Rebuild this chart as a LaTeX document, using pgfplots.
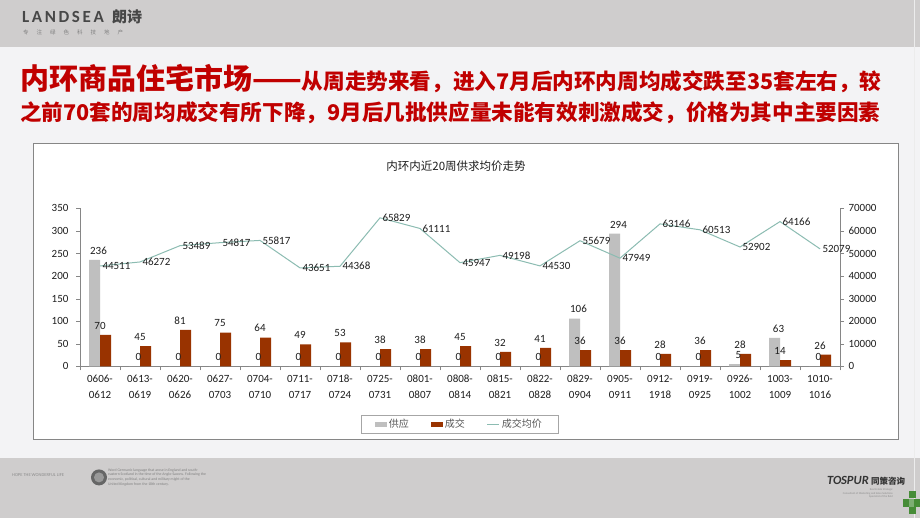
\documentclass[border=0pt]{standalone}
\usepackage{pgfplots}
\pgfplotsset{compat=1.18}
\usepackage{pgfplotstable}
\usepackage{fontspec}
\setmainfont{Carlito}
\newfontfamily\cjk{Noto Sans CJK SC}
\definecolor{supc}{RGB}{191,191,191}
\definecolor{dealc}{RGB}{153,51,0}
\definecolor{pricec}{RGB}{140,188,178}
\definecolor{titred}{RGB}{192,0,0}
\definecolor{axgray}{RGB}{134,134,134}
\definecolor{hdr}{RGB}{207,205,205}
\definecolor{bgc}{RGB}{243,243,245}
\definecolor{lbl}{RGB}{30,30,30}
\definecolor{grn}{RGB}{70,140,55}
\pgfplotsset{/pgf/number format/set thousands separator={}}

\pgfplotstableread{
x sup deal price
0 236 70 44511
1 0 45 46272
2 0 81 53489
3 0 75 54817
4 0 64 55817
5 0 49 43651
6 0 53 44368
7 0 38 65829
8 0 38 61111
9 0 45 45947
10 0 32 49198
11 0 41 44530
12 106 36 55679
13 294 36 47949
14 0 28 63146
15 0 36 60513
16 5 28 52902
17 63 14 64166
18 0 26 52079
}\data

\begin{document}
\begin{tikzpicture}
\begin{scope}[x=1pt,y=-1pt]
% slide background
\fill[bgc] (0,0) rectangle (920,518);
\fill[hdr] (0,0) rectangle (920,47);
\fill[hdr] (0,458) rectangle (920,518);
\draw[white!85!gray, line width=0.8pt] (914,0) -- (914,518);
% header logo
\node[anchor=base west, inner sep=0, text=black!72] at (22,22) {\fontsize{17}{17}\selectfont\bfseries L\kern2.6pt A\kern2.6pt N\kern2.6pt D\kern2.6pt S\kern2.6pt E\kern2.6pt A};
\node[anchor=base west, inner sep=0, text=black!72] at (112,22) {\cjk\bfseries\fontsize{15}{15}\selectfont 朗诗};
\node[anchor=base west, inner sep=0, text=black!50] at (23,34) {\cjk\fontsize{5.5}{6}\selectfont 专\hspace{8pt}注\hspace{8pt}绿\hspace{8pt}色\hspace{8pt}科\hspace{8pt}技\hspace{8pt}地\hspace{8pt}产};
% title
\node[anchor=base west, inner sep=0, text=titred] at (20,89) {\cjk\bfseries\fontsize{29}{29}\selectfont 内环商品住宅市场——\fontsize{21.6}{22}\selectfont 从周走势来看，进入7月后内环内周均成交跌至35套左右，较};
\node[anchor=base west, inner sep=0, text=titred] at (20,120) {\cjk\bfseries\fontsize{21.6}{22}\selectfont 之前70套的周均成交有所下降，9月后几批供应量未能有效刺激成交，价格为其中主要因素};
% chart panel
\fill[white] (33,143) rectangle (898,439);
\draw[axgray, line width=0.7pt] (33,143) rectangle (898,439);
\node[text=lbl] at (456,166) {\cjk\fontsize{11.5}{14}\selectfont 内环内近20周供求均价走势};
% footer
\node[anchor=west, inner sep=0, text=black!45] at (12,475) {\fontsize{4.5}{5}\selectfont HOPE THE WONDERFUL LIFE};
\fill[black!60] (99,477) circle (8);
\fill[black!40] (99,477) circle (5);
\node[anchor=north west, inner sep=0, text=black!50, align=left, font=\fontsize{3.8}{4.6}\selectfont] at (108,468) {Word Germanic language that arose in England and south-\\eastern Scotland in the time of the Anglo-Saxons. Following the\\economic, political, cultural and military might of the\\United Kingdom from the 18th century.};
\node[anchor=base east, inner sep=0, text=black!80] at (869,484) {\fontsize{12.5}{12}\selectfont\bfseries\itshape T\kern-0.3pt O\kern-0.3pt SPUR};
\node[anchor=base west, inner sep=0, text=black!80] at (871,484) {\cjk\bfseries\fontsize{8.5}{9}\selectfont 同策咨询};
\node[anchor=north east, inner sep=0, text=black!45, align=right, font=\fontsize{2.8}{3.6}\selectfont] at (893,488) {Real Estate Strategic\\Consultant of Marketing and Sales Solutions\\Specialist of the field};
\fill[grn] (909,491) rectangle (916,498);
\fill[grn] (903,499) rectangle (909,507);
\fill[grn] (914,499) rectangle (920,507);
\fill[grn] (909,507) rectangle (916,514);
\fill[grn!70!white] (909,499) rectangle (914,507);
\end{scope}

% ---------- left axis: bars ----------
\begin{axis}[
  at={(80pt,-366pt)}, anchor=south west,
  scale only axis, width=760pt, height=158pt,
  xmin=-0.5, xmax=18.5, ymin=0, ymax=350,
  ytick={0,50,...,350},
  xtick={0,...,18},
  xticklabels={{0606-\\0612},{0613-\\0619},{0620-\\0626},{0627-\\0703},{0704-\\0710},{0711-\\0717},{0718-\\0724},{0725-\\0731},{0801-\\0807},{0808-\\0814},{0815-\\0821},{0822-\\0828},{0829-\\0904},{0905-\\0911},{0912-\\1918},{0919-\\0925},{0926-\\1002},{1003-\\1009},{1010-\\1016}},
  x tick label style={align=center, font=\fontsize{11}{16}\selectfont, text=lbl, yshift=-1pt},
  y tick label style={font=\fontsize{11}{13}\selectfont, text=lbl, xshift=-4pt},
  /pgf/number format/assume math mode=true,
  major x tick style={draw=none},
  minor xtick={-0.5,0.5,...,18.5},
  minor x tick style={axgray},
  minor tick length=4pt,
  major tick length=4pt,
  ytick style={axgray},
  tick align=outside,
  axis x line*=bottom, axis y line*=left,
  axis line style={axgray},
  clip=false,
  legend columns=3,
  legend style={at={(0.4993,-0.367)}, anchor=center, draw=black!35, font=\cjk\fontsize{10}{12}\selectfont, text=black!65,
    /tikz/every even column/.append style={column sep=20pt}, inner xsep=14pt, inner ysep=2pt},
]
\addplot[ybar, bar width=11pt, bar shift=-5.5pt, fill=supc, draw=none,
  nodes near coords, nodes near coords style={font=\fontsize{11}{13}\selectfont, text=lbl, yshift=2pt, xshift=-1.5pt},
  legend image code/.code={\fill[supc] (0pt,-2.5pt) rectangle (12pt,2.5pt);}]
  table[x=x,y=sup]{\data};
\addlegendentry{供应}
\addplot[ybar, bar width=11pt, bar shift=5.5pt, fill=dealc, draw=none,
  nodes near coords, nodes near coords style={font=\fontsize{11}{13}\selectfont, text=lbl, yshift=2pt},
  legend image code/.code={\fill[dealc] (0pt,-2.5pt) rectangle (12pt,2.5pt);}]
  table[x=x,y=deal]{\data};
\addlegendentry{成交}
\addlegendimage{pricec, line width=1pt, legend image code/.code={\draw[pricec, line width=1pt] (0pt,0pt) -- (12pt,0pt);}}
\addlegendentry{成交均价}
\end{axis}

% ---------- right axis: price line ----------
\begin{axis}[
  at={(80pt,-366pt)}, anchor=south west,
  scale only axis, width=760pt, height=158pt,
  xmin=-0.5, xmax=18.5, ymin=0, ymax=70000,
  ytick={0,10000,...,70000},
  scaled y ticks=false,
  axis x line=none, axis y line*=right,
  axis line style={axgray},
  ytick style={axgray},
  tick align=outside, major tick length=4pt,
  y tick label style={font=\fontsize{11}{13}\selectfont, text=lbl, xshift=1pt},
  /pgf/number format/assume math mode=true,
  clip=false,
]
\addplot[pricec, line width=1pt, mark=none,
  nodes near coords, nodes near coords style={anchor=west, font=\fontsize{11}{13}\selectfont, text=lbl, xshift=0pt, inner sep=2pt}]
  table[x=x,y=price]{\data};
\end{axis}
\end{tikzpicture}
\end{document}
